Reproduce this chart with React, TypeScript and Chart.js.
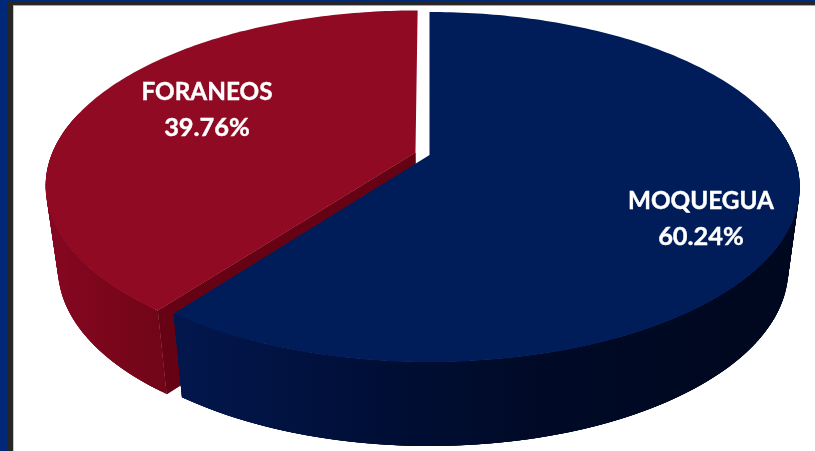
import React, { useEffect, useRef } from "react";
import { Chart, registerables } from "chart.js";

Chart.register(...registerables);

const categories = ["MOQUEGUA", "FORANEOS"];
const shares = [60.24, 39.76];
const explode = [0, 9];
const topColors = ["#001d59", "#910a24"];
const cutColors = ["#000c30", "#650314"];
const sideStart = ["#03174d", "#830720"];
const sideEnd = ["#00081f", "#710518"];

const TILT = -0.183;
const topFace = { cx: 429.5, a: 364, A: 140.8, B: 155 };
const bottomFace = { cx: 429.7, a: 352.5, A: 127, B: 237.4 };
const labelBoxes = [
  { x: 701, y: 201.5, gap: 35 },
  { x: 207, y: 92.5, gap: 35 },
];

type Face = typeof topFace;

function project(face: Face, u: number, v: number) {
  const w = 1 + TILT * v;
  return { x: face.cx + (face.a * u) / w, y: (face.A * v + face.B) / w };
}

const pie3d = {
  id: "pie3d",
  beforeDatasetDraw(chart: any) {
    const ctx: CanvasRenderingContext2D = chart.ctx;
    const arcs: any[] = chart.getDatasetMeta(0).data;
    const order = arcs
      .map((_, i) => i)
      .sort((p, q) => explode[q] - explode[p]);

    for (const i of order) {
      const arc = arcs[i];
      const { startAngle, endAngle, outerRadius } = arc;
      const mid = (startAngle + endAngle) / 2;
      const shift = (arc.options.offset || 0) / outerRadius;
      const du = Math.cos(mid) * shift;
      const dv = Math.sin(mid) * shift;
      const steps = Math.ceil(((endAngle - startAngle) / (Math.PI * 2)) * 360);
      const rim: { u: number; v: number }[] = [];
      for (let s = 0; s <= steps; s++) {
        const t = startAngle + ((endAngle - startAngle) * s) / steps;
        rim.push({ u: Math.cos(t) + du, v: Math.sin(t) + dv });
      }
      const hub = { u: du, v: dv };

      // the one cut face that can be seen: on the exploded slice, at its start
      const drawCut = () => {
        if (!explode[i]) return;
        const edge = rim[0];
        const quad = [
          project(topFace, hub.u, hub.v),
          project(topFace, edge.u, edge.v),
          project(bottomFace, edge.u, edge.v),
          project(bottomFace, hub.u, hub.v),
        ];
        ctx.fillStyle = cutColors[i];
        ctx.beginPath();
        quad.forEach((p, k) => (k ? ctx.lineTo(p.x, p.y) : ctx.moveTo(p.x, p.y)));
        ctx.closePath();
        ctx.fill();
      };

      drawCut();

      // outer wall: overlapping opaque quads along the front of the rim
      const front = rim.filter((p) => p.v > -0.2);
      const xs = front.map((p) => project(bottomFace, p.u, p.v).x);
      const grad = ctx.createLinearGradient(Math.min(...xs), 0, Math.max(...xs), 0);
      if (i === 0) {
        grad.addColorStop(0, sideStart[i]);
        grad.addColorStop(0.3, "#000f38");
        grad.addColorStop(0.6, "#000a26");
        grad.addColorStop(1, sideEnd[i]);
      } else {
        grad.addColorStop(0, sideStart[i]);
        grad.addColorStop(1, sideEnd[i]);
      }
      ctx.fillStyle = grad;
      for (let k = 0; k < rim.length - 1; k++) {
        const a = rim[k];
        const b = rim[Math.min(k + 4, rim.length - 1)];
        if (a.v < -0.2 && b.v < -0.2) continue;
        const pts = [
          project(topFace, a.u, a.v),
          project(topFace, b.u, b.v),
          project(bottomFace, b.u, b.v),
          project(bottomFace, a.u, a.v),
        ];
        ctx.beginPath();
        pts.forEach((p, n) => (n ? ctx.lineTo(p.x, p.y) : ctx.moveTo(p.x, p.y)));
        ctx.closePath();
        ctx.fill();
      }

      drawCut();

      // top face
      ctx.fillStyle = topColors[i];
      ctx.beginPath();
      const apex = project(topFace, hub.u, hub.v);
      ctx.moveTo(apex.x, apex.y);
      for (const r of rim) {
        const p = project(topFace, r.u, r.v);
        ctx.lineTo(p.x, p.y);
      }
      ctx.closePath();
      ctx.fill();
    }

    // labels
    ctx.save();
    ctx.fillStyle = "#ffffff";
    ctx.strokeStyle = "#ffffff";
    ctx.lineWidth = 0.4;
    ctx.textAlign = "center";
    ctx.textBaseline = "middle";
    categories.forEach((name, i) => {
      const box = labelBoxes[i];
      ctx.font = 'bold 24.3px Lato, "Open Sans", sans-serif';
      ctx.fillText(name, box.x, box.y);
      ctx.strokeText(name, box.x, box.y);
      const pct = shares[i].toFixed(2) + "%";
      ctx.font = 'bold 25.4px Lato, "Open Sans", sans-serif';
      ctx.fillText(pct, box.x, box.y + box.gap);
      ctx.strokeText(pct, box.x, box.y + box.gap);
    });
    ctx.restore();
    return false;
  },
};

export default function App() {
  const ref = useRef<HTMLCanvasElement>(null);
  useEffect(() => {
    document.body.style.margin = "0";
    document.body.style.background = "#ffffff";
    const chart = new Chart(ref.current!, {
      type: "pie",
      data: {
        labels: categories,
        datasets: [
          {
            data: shares,
            backgroundColor: topColors,
            offset: explode,
            borderWidth: 0,
          },
        ],
      },
      options: {
        responsive: false,
        devicePixelRatio: 1,
        animation: false,
        plugins: { legend: { display: false }, tooltip: { enabled: false } },
      },
      plugins: [pie3d],
    } as any);
    return () => chart.destroy();
  }, []);

  const bar = (style: React.CSSProperties) => (
    <div style={{ position: "absolute", ...style }} />
  );

  return (
    <div style={{ position: "relative", width: 815, height: 451, overflow: "hidden", background: "#fff" }}>
      <canvas ref={ref} width={815} height={451} style={{ position: "absolute", left: 0, top: 0, display: "block" }} />
      {bar({ left: 0, top: 0, width: 815, height: 1, background: "#002878" })}
      {bar({ left: 8, top: 1, width: 807, height: 4, background: "#262626" })}
      {bar({ left: 8, top: 5, width: 807, height: 1, background: "#a8a8a8" })}
      {bar({ left: 0, top: 0, width: 8, height: 451, background: "#002878" })}
      {bar({ left: 8, top: 1, width: 5, height: 450, background: "#262626" })}
      {bar({ left: 13, top: 6, width: 1, height: 445, background: "#c8c8c8" })}
    </div>
  );
}
